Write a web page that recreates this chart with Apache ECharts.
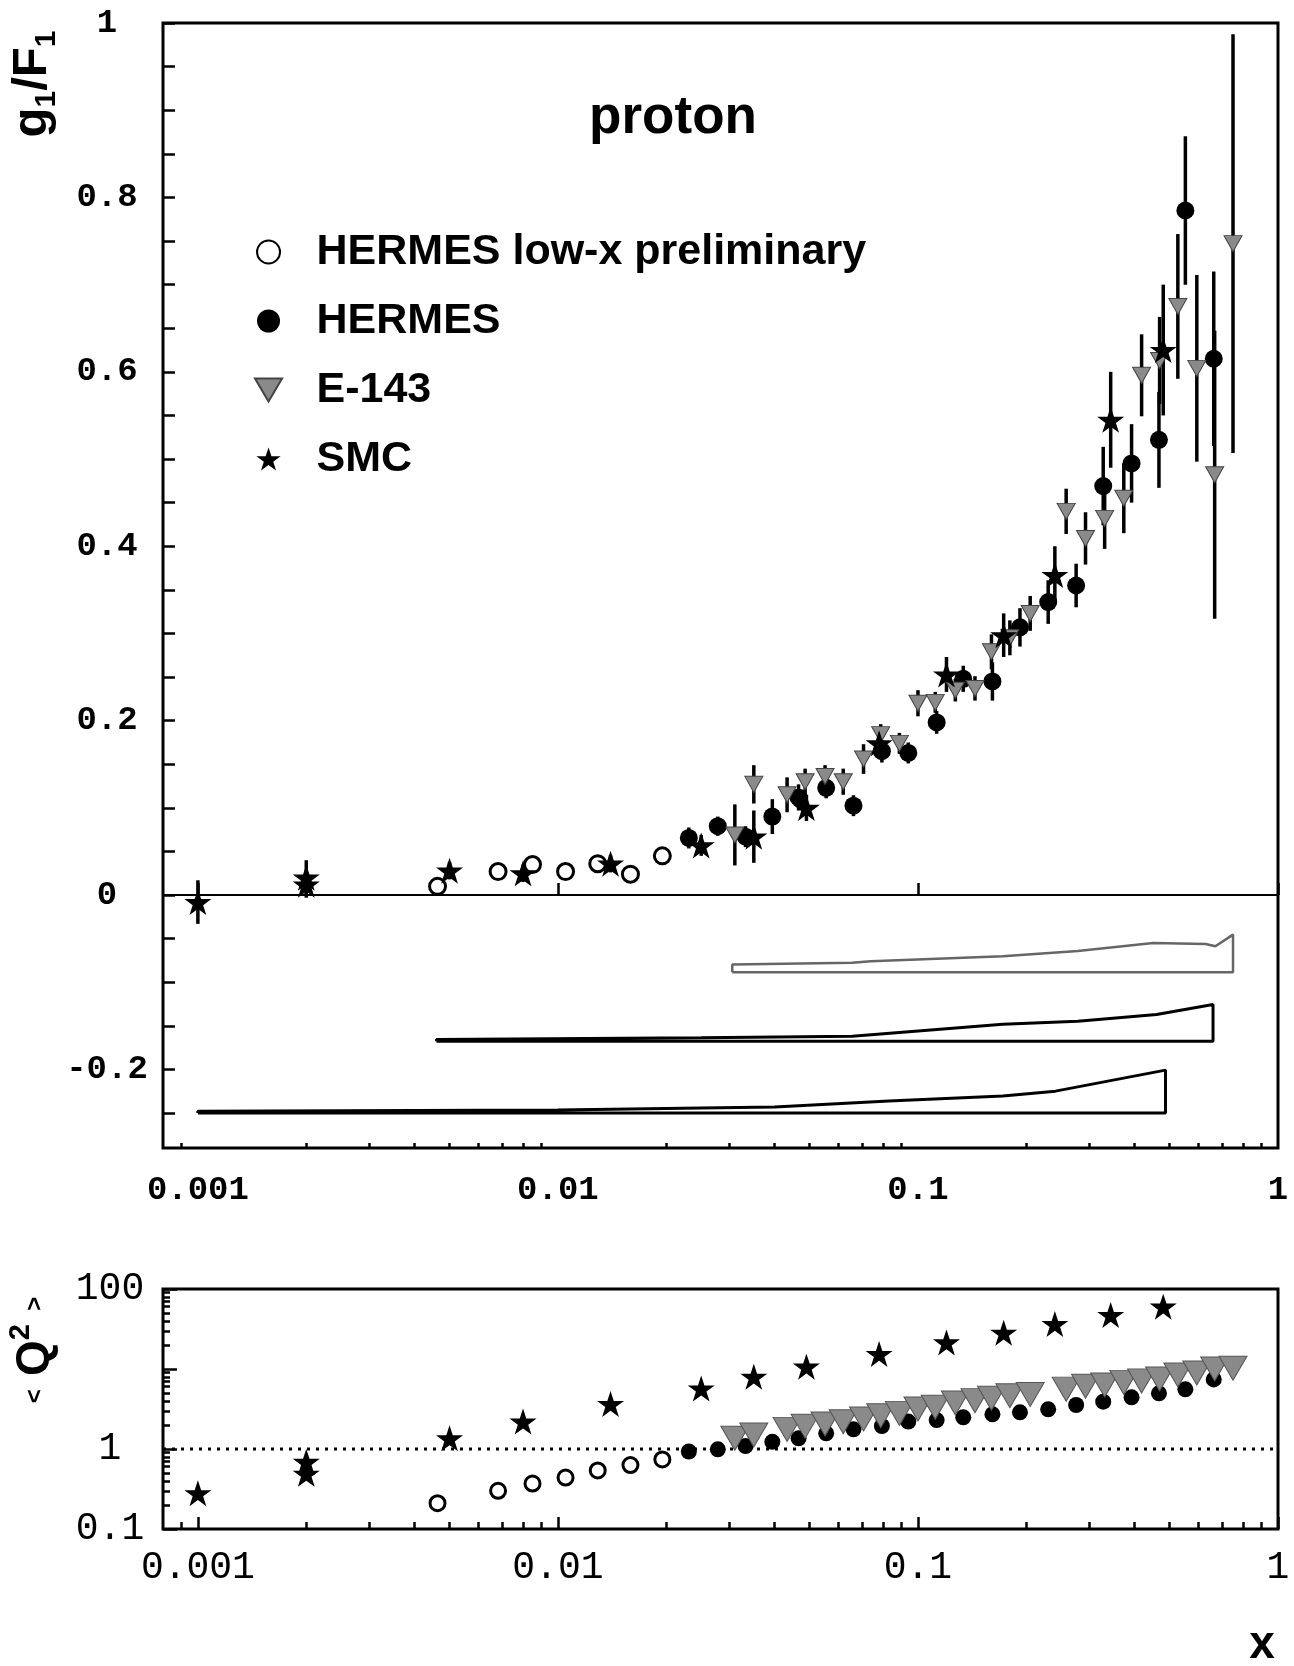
<!DOCTYPE html>
<html>
<head>
<meta charset="utf-8">
<script src="https://cdn.jsdelivr.net/npm/echarts@6.0.0/dist/echarts.min.js"></script>
<style>
html,body{margin:0;padding:0;background:#fff;}
#chart{width:1294px;height:1666px;}
</style>
</head>
<body>
<div id="chart"></div>
<script>
// ---------------- data ----------------
// SMC
const smcX   = [0.001, 0.002, 0.002, 0.005, 0.008, 0.014, 0.025, 0.035, 0.049, 0.078, 0.12, 0.173, 0.24, 0.343, 0.48];
const smcG   = [-0.008, 0.020, 0.012, 0.028, 0.025, 0.036, 0.057, 0.067, 0.100, 0.174, 0.253, 0.298, 0.367, 0.545, 0.625];
const smcErr = [0.025, 0.02, 0.015, 0.01, 0.01, 0.01, 0.012, 0.03, 0.015, 0.015, 0.02, 0.025, 0.033, 0.055, 0.075];
const smcQ2  = [0.28, 0.69, 0.49, 1.36, 2.2, 3.65, 5.7, 8.0, 10.7, 15.4, 21.5, 28.4, 36.5, 47.3, 60.1];

// HERMES low-x preliminary
const hermesLowX  = [0.00463, 0.00682, 0.0085, 0.0105, 0.0129, 0.0159, 0.0195];
const hermesLowG  = [0.010, 0.027, 0.035, 0.027, 0.036, 0.024, 0.045];
const hermesLowQ2 = [0.21, 0.30, 0.37, 0.44, 0.54, 0.63, 0.74];

// HERMES
const hermesX   = [0.0231, 0.0278, 0.0332, 0.0394, 0.0466, 0.0556, 0.0662, 0.0794, 0.094, 0.1127, 0.1336, 0.161, 0.192, 0.230, 0.275, 0.327, 0.392, 0.467, 0.553, 0.663];
const hermesG   = [0.0655, 0.079, 0.067, 0.090, 0.112, 0.123, 0.1025, 0.165, 0.163, 0.198, 0.248, 0.245, 0.307, 0.336, 0.355, 0.469, 0.495, 0.522, 0.785, 0.615];
const hermesErr = [0.012, 0.011, 0.012, 0.02, 0.015, 0.012, 0.012, 0.013, 0.012, 0.013, 0.015, 0.022, 0.022, 0.025, 0.025, 0.045, 0.045, 0.055, 0.085, 0.1];
const hermesQ2  = [0.93, 0.99, 1.09, 1.23, 1.36, 1.57, 1.76, 1.94, 2.2, 2.3, 2.49, 2.71, 2.87, 3.13, 3.55, 3.9, 4.43, 4.97, 5.57, 7.4];

// E-143
const e143X   = [0.031, 0.035, 0.0433, 0.0486, 0.0552, 0.062, 0.0706, 0.0788, 0.0888, 0.100, 0.1117, 0.127, 0.144, 0.160, 0.180, 0.205, 0.258, 0.292, 0.330, 0.373, 0.418, 0.469, 0.527, 0.595, 0.667, 0.750];
const e143G   = [0.069, 0.127, 0.115, 0.130, 0.136, 0.130, 0.156, 0.184, 0.174, 0.220, 0.221, 0.235, 0.237, 0.279, 0.295, 0.323, 0.440, 0.409, 0.432, 0.455, 0.596, 0.613, 0.675, 0.604, 0.482, 0.747];
const e143Err = [0.035, 0.022, 0.02, 0.015, 0.013, 0.015, 0.017, 0.012, 0.012, 0.015, 0.012, 0.013, 0.014, 0.02, 0.02, 0.02, 0.026, 0.03, 0.035, 0.04, 0.047, 0.05, 0.083, 0.107, 0.165, 0.24];
const e143Q2  = [1.36, 1.50, 1.76, 1.92, 2.05, 2.19, 2.37, 2.61, 2.79, 3.16, 3.32, 3.76, 4.02, 4.3, 4.64, 4.8, 5.6, 6.08, 6.3, 6.8, 7.1, 7.5, 8.4, 8.9, 10.0, 10.2];

// systematic error bands
const e143BandX    = [0.0305, 0.0657, 0.074, 0.172, 0.278, 0.45, 0.63, 0.67, 0.75];
const e143BandTop  = [-0.0796, -0.0777, -0.0758, -0.070, -0.064, -0.0548, -0.056, -0.0587, -0.0453];
const e143BandBase = -0.0885;
const hermesBandX    = [0.0046, 0.025, 0.0657, 0.172, 0.278, 0.46, 0.66];
const hermesBandTop  = [-0.1655, -0.1636, -0.1618, -0.148, -0.1446, -0.137, -0.1255];
const hermesBandBase = -0.1675;
const smcBandX    = [0.001, 0.01, 0.025, 0.04, 0.083, 0.172, 0.241, 0.487];
const smcBandTop  = [-0.248, -0.2465, -0.244, -0.243, -0.236, -0.2305, -0.2248, -0.2007];
const smcBandBase = -0.25;

// reference line values
const zeroLine = 0;
const q2RefLine = 1;

// axis ticks and labels
const xMajor = [0.001, 0.01, 0.1, 1];
const xMajorLabels = ['0.001', '0.01', '0.1', '1'];
const xMinor = [0.0009, 0.002, 0.003, 0.004, 0.005, 0.006, 0.007, 0.008, 0.009,
                0.02, 0.03, 0.04, 0.05, 0.06, 0.07, 0.08, 0.09,
                0.2, 0.3, 0.4, 0.5, 0.6, 0.7, 0.8, 0.9];
const gTicks = [-0.25, -0.2, -0.15, -0.1, -0.05, 0, 0.05, 0.1, 0.15, 0.2, 0.25, 0.3, 0.35, 0.4, 0.45,
                0.5, 0.55, 0.6, 0.65, 0.7, 0.75, 0.8, 0.85, 0.9, 0.95, 1];
const gLabelVals = [-0.2, 0, 0.2, 0.4, 0.6, 0.8, 1];
const gLabels = ['-0.2', '0', '0.2', '0.4', '0.6', '0.8', '1'];
const q2Major = [0.1, 1, 10, 100];
const q2LabelVals = [0.1, 1, 100];
const q2Labels = ['0.1', '1', '100'];
const q2Minor = [0.2, 0.3, 0.4, 0.5, 0.6, 0.7, 0.8, 0.9, 2, 3, 4, 5, 6, 7, 8, 9, 20, 30, 40, 50, 60, 70, 80, 90];

const xMin = 0.0008, xMax = 1;
const gMin = -0.29, gMax = 1;
const q2Min = 0.1, q2Max = 100;

// ---------------- helpers ----------------
function findLabel(vals, labels, v, isLog) {
  for (let i = 0; i < vals.length; i++) {
    const d = isLog ? Math.abs(Math.log10(v) - Math.log10(vals[i])) : Math.abs(v - vals[i]);
    if (d < 1e-6) return labels[i];
  }
  return '';
}
function pts(xs, ys) { return xs.map((x, i) => [x, ys[i]]); }
function errs(xs, ys, es) { return xs.map((x, i) => [x, ys[i] - es[i], ys[i] + es[i]]); }
function band(xs, top, base) {
  const d = [[xs[0], base], [xs[xs.length - 1], base]];
  for (let i = xs.length - 1; i >= 0; i--) d.push([xs[i], top[i]]);
  d.push([xs[0], base]);
  return d;
}

const STAR = 'path://M10,0L12.35,7.1L19.8,7.1L13.8,11.5L16.1,18.6L10,14.2L3.9,18.6L6.2,11.5L0.2,7.1L7.65,7.1Z';
const TRI = 'path://M0,0L20,0L10,17Z';
const MONO = '"Liberation Mono", "DejaVu Sans Mono", monospace';
const SANS = '"Liberation Sans", Arial, sans-serif';

function errRender(params, api) {
  const x = api.value(0);
  const p1 = api.coord([x, api.value(1)]);
  const p2 = api.coord([x, api.value(2)]);
  return { type: 'line', shape: { x1: p1[0], y1: p1[1], x2: p2[0], y2: p2[1] },
           style: { stroke: '#000', lineWidth: 3.5 } };
}

function xAxisMajor(grid, labelFont) {
  return {
    gridIndex: grid, type: 'log', logBase: 10, min: xMin, max: xMax, position: 'bottom',
    axisLine: { show: false }, splitLine: { show: false }, minorTick: { show: false },
    axisTick: { show: true, inside: true, length: 12, customValues: xMajor, lineStyle: { color: '#000', width: 2.5 } },
    axisLabel: Object.assign({ show: true, customValues: xMajor, color: '#000',
      formatter: v => findLabel(xMajor, xMajorLabels, v, true) }, labelFont)
  };
}
function xAxisMinor(grid, len) {
  return {
    gridIndex: grid, type: 'log', logBase: 10, min: xMin, max: xMax, position: 'bottom',
    axisLine: { show: false }, splitLine: { show: false }, minorTick: { show: false },
    axisTick: { show: true, inside: true, length: len, customValues: xMinor, lineStyle: { color: '#000', width: 2.5 } },
    axisLabel: { show: false }
  };
}

const option = {
  animation: false,
  backgroundColor: '#fff',
  grid: [
    { left: 163, top: 23, width: 1115, height: 1125, show: true, borderColor: '#000', borderWidth: 3, backgroundColor: 'rgba(0,0,0,0)' },
    { left: 163, top: 1289, width: 1115, height: 240, show: true, borderColor: '#000', borderWidth: 3, backgroundColor: 'rgba(0,0,0,0)' }
  ],
  xAxis: [
    xAxisMajor(0, { margin: 25, fontFamily: MONO, fontWeight: 'bold', fontSize: 34 }),
    xAxisMinor(0, 5),
    xAxisMajor(1, { margin: 20, fontFamily: MONO, fontWeight: 'normal', fontSize: 38 }),
    xAxisMinor(1, 7)
  ],
  yAxis: [
    {
      gridIndex: 0, type: 'value', min: gMin, max: gMax, position: 'left',
      axisLine: { show: false }, splitLine: { show: false },
      axisTick: { show: true, inside: true, length: 12, customValues: gTicks, lineStyle: { color: '#000', width: 2.5 } },
      axisLabel: { show: true, customValues: gLabelVals, align: 'center', margin: 56, color: '#000',
        fontFamily: MONO, fontWeight: 'bold', fontSize: 34,
        formatter: v => findLabel(gLabelVals, gLabels, v, false) }
    },
    {
      gridIndex: 1, type: 'log', logBase: 10, min: q2Min, max: q2Max, position: 'left',
      axisLine: { show: false }, splitLine: { show: false }, minorTick: { show: false },
      axisTick: { show: true, inside: true, length: 14, customValues: q2Major, lineStyle: { color: '#000', width: 2.5 } },
      axisLabel: { show: true, customValues: q2LabelVals, align: 'center', margin: 53, color: '#000',
        fontFamily: MONO, fontSize: 38,
        formatter: v => findLabel(q2LabelVals, q2Labels, v, true) }
    },
    {
      gridIndex: 1, type: 'log', logBase: 10, min: q2Min, max: q2Max, position: 'left',
      axisLine: { show: false }, splitLine: { show: false }, minorTick: { show: false },
      axisTick: { show: true, inside: true, length: 7, customValues: q2Minor, lineStyle: { color: '#000', width: 2.5 } },
      axisLabel: { show: false }
    }
  ],
  legend: {
    data: ['HERMES low-x preliminary', 'HERMES', 'E-143', 'SMC'],
    orient: 'vertical', left: 254, top: 230, padding: 0,
    itemWidth: 86, itemHeight: 23, itemGap: 25, selectedMode: false,
    textStyle: { fontFamily: SANS, fontWeight: 'bold', fontSize: 43, lineHeight: 44, color: '#000' }
  },
  graphic: [
    { type: 'text', x: 673, y: 118, style: { text: 'proton', font: 'bold 53px "Liberation Sans"', fill: '#000', align: 'center', verticalAlign: 'middle' } },
    { type: 'text', x: 32, y: 84, rotation: Math.PI / 2,
      style: { text: '{a|g}{s|1}{a|/F}{s|1}', align: 'center', verticalAlign: 'middle',
        rich: {
          a: { fontFamily: 'Liberation Sans', fontWeight: 'bold', fontSize: 49, lineHeight: 60, fill: '#000' },
          s: { fontFamily: 'Liberation Sans', fontWeight: 'bold', fontSize: 30, lineHeight: 32, verticalAlign: 'bottom', fill: '#000' }
        } } },
    { type: 'text', x: 35, y: 1350, rotation: Math.PI / 2,
      style: { text: '{b|<  }{a|Q}{p|2}{b|  >}', align: 'center', verticalAlign: 'middle',
        rich: {
          a: { fontFamily: 'Liberation Sans', fontWeight: 'bold', fontSize: 46, lineHeight: 58, fill: '#000' },
          p: { fontFamily: 'Liberation Sans', fontWeight: 'bold', fontSize: 29, lineHeight: 30, verticalAlign: 'top', fill: '#000' },
          b: { fontFamily: 'Liberation Sans', fontWeight: 'bold', fontSize: 24, lineHeight: 58, fill: '#000' }
        } } },
    { type: 'text', x: 1262, y: 1645, style: { text: 'x', font: 'bold 46px "Liberation Sans"', fill: '#000', align: 'center', verticalAlign: 'middle' } }
  ],
  series: [
    // reference lines
    { name: 'zero', type: 'line', xAxisIndex: 0, yAxisIndex: 0, data: [[xMin, zeroLine], [xMax, zeroLine]],
      symbol: 'none', lineStyle: { color: '#000', width: 2 }, z: 1, silent: true },
    { name: 'q2one', type: 'line', xAxisIndex: 2, yAxisIndex: 1, data: [[xMin, q2RefLine], [xMax, q2RefLine]],
      symbol: 'none', lineStyle: { color: '#000', width: 3, type: [3, 6] }, z: 1, silent: true },
    // systematic bands
    { name: 'e143band', type: 'line', xAxisIndex: 0, yAxisIndex: 0, data: band(e143BandX, e143BandTop, e143BandBase),
      symbol: 'none', lineStyle: { color: '#666', width: 2.5 }, z: 2, silent: true },
    { name: 'hermesband', type: 'line', xAxisIndex: 0, yAxisIndex: 0, data: band(hermesBandX, hermesBandTop, hermesBandBase),
      symbol: 'none', lineStyle: { color: '#000', width: 3 }, z: 2, silent: true },
    { name: 'smcband', type: 'line', xAxisIndex: 0, yAxisIndex: 0, data: band(smcBandX, smcBandTop, smcBandBase),
      symbol: 'none', lineStyle: { color: '#000', width: 3 }, z: 2, silent: true },
    // error bars
    { name: 'e143err', type: 'custom', xAxisIndex: 0, yAxisIndex: 0, renderItem: errRender,
      data: errs(e143X, e143G, e143Err), encode: { x: 0, y: [1, 2] }, z: 3, silent: true },
    { name: 'hermeserr', type: 'custom', xAxisIndex: 0, yAxisIndex: 0, renderItem: errRender,
      data: errs(hermesX, hermesG, hermesErr), encode: { x: 0, y: [1, 2] }, z: 3, silent: true },
    { name: 'smcerr', type: 'custom', xAxisIndex: 0, yAxisIndex: 0, renderItem: errRender,
      data: errs(smcX, smcG, smcErr), encode: { x: 0, y: [1, 2] }, z: 3, silent: true },
    // top panel markers
    { name: 'HERMES low-x preliminary', type: 'scatter', xAxisIndex: 0, yAxisIndex: 0, data: pts(hermesLowX, hermesLowG),
      symbol: 'circle', symbolSize: 16, itemStyle: { color: '#fff', borderColor: '#000', borderWidth: 3, opacity: 1 }, z: 4 },
    { name: 'HERMES', type: 'scatter', xAxisIndex: 0, yAxisIndex: 0, data: pts(hermesX, hermesG),
      symbol: 'circle', symbolSize: 18, itemStyle: { color: '#000', opacity: 1 }, z: 5 },
    { name: 'E-143', type: 'scatter', xAxisIndex: 0, yAxisIndex: 0, data: pts(e143X, e143G),
      symbol: TRI, symbolSize: [18, 16], itemStyle: { color: '#8a8a8a', borderColor: '#444', borderWidth: 1, opacity: 1 }, z: 6 },
    { name: 'SMC', type: 'scatter', xAxisIndex: 0, yAxisIndex: 0, data: pts(smcX, smcG),
      symbol: STAR, symbolSize: [27, 26], itemStyle: { color: '#000', opacity: 1 }, z: 7 },
    // bottom panel markers
    { name: 'HERMES low-x preliminary', type: 'scatter', xAxisIndex: 2, yAxisIndex: 1, data: pts(hermesLowX, hermesLowQ2),
      symbol: 'circle', symbolSize: 15, itemStyle: { color: '#fff', borderColor: '#000', borderWidth: 3, opacity: 1 }, z: 4 },
    { name: 'HERMES', type: 'scatter', xAxisIndex: 2, yAxisIndex: 1, data: pts(hermesX, hermesQ2),
      symbol: 'circle', symbolSize: 16, itemStyle: { color: '#000', opacity: 1 }, z: 5 },
    { name: 'E-143', type: 'scatter', xAxisIndex: 2, yAxisIndex: 1, data: pts(e143X, e143Q2),
      symbol: TRI, symbolSize: [28, 24], itemStyle: { color: '#8a8a8a', borderColor: '#555', borderWidth: 1, opacity: 1 }, z: 6 },
    { name: 'SMC', type: 'scatter', xAxisIndex: 2, yAxisIndex: 1, data: pts(smcX, smcQ2),
      symbol: STAR, symbolSize: [27, 26], itemStyle: { color: '#000', opacity: 1 }, z: 7 }
  ]
};

const chart = echarts.init(document.getElementById('chart'), null, { renderer: 'canvas' });
chart.setOption(option);
</script>
</body>
</html>
